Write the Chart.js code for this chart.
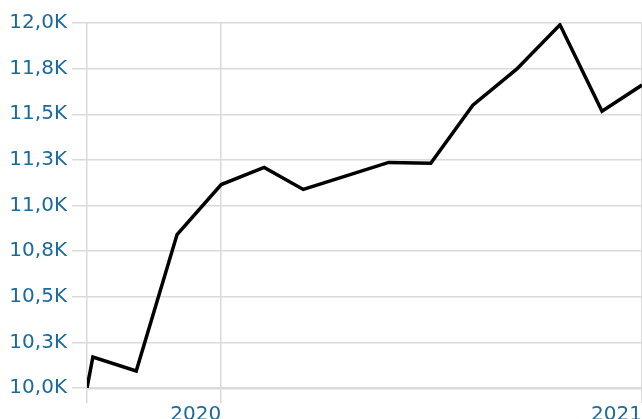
<!DOCTYPE html>
<html>
<head>
<meta charset="utf-8">
<script src="https://cdn.jsdelivr.net/npm/chart.js@4/dist/chart.umd.min.js"></script>
<style>
  html, body { margin: 0; padding: 0; background: #fff; }
  #wrap { width: 642px; height: 419px; }
</style>
</head>
<body>
<div id="wrap"><canvas id="chart"></canvas></div>
<script>
// x positions as decimal years
const years = [2019.681, 2019.695, 2019.798, 2019.895, 2020.0, 2020.102, 2020.195,
               2020.295, 2020.398, 2020.498, 2020.598, 2020.702, 2020.805, 2020.905, 2021.0];
const values = [10000, 10170, 10093, 10841, 11115, 11209, 11088,
                11161, 11236, 11231, 11550, 11747, 11990, 11517, 11660];
const xTicks = [2019.681, 2020, 2021];
const xTickLabels = ["", "2020", "2021"];

const blue = "#1a6a9c";
const grid = "#dadada";

const ctx = document.getElementById("chart").getContext("2d");
new Chart(ctx, {
  type: "line",
  data: {
    datasets: [{
      data: years.map((x, i) => ({ x: x, y: values[i] })),
      borderColor: "#000",
      borderWidth: 3.5,
      borderJoinStyle: "miter",
      pointRadius: 0,
      tension: 0,
      fill: false
    }]
  },
  options: {
    responsive: true,
    maintainAspectRatio: false,
    animation: false,
    layout: { padding: { top: 23, right: 0, left: 0, bottom: 0 } },
    plugins: { legend: { display: false }, tooltip: { enabled: false } },
    scales: {
      x: {
        type: "linear",
        min: xTicks[0],
        max: 2021,
        afterBuildTicks: axis => { axis.ticks = xTicks.map(v => ({ value: v })); },
        afterFit: axis => { axis.height = 31; },
        grid: { color: grid, lineWidth: 1.5, tickLength: 15 },
        border: { color: grid, width: 2.5 },
        ticks: {
          align: "end",
          padding: 0,
          maxRotation: 0,
          autoSkip: false,
          color: blue,
          font: { family: "DejaVu Sans", size: 20 },
          callback: (v, i) => xTickLabels[i]
        }
      },
      y: {
        min: 10000,
        max: 12000,
        afterFit: axis => { axis.width = 87; },
        grid: { color: grid, lineWidth: 1.5, tickLength: 15 },
        border: { display: false },
        ticks: {
          stepSize: 250,
          padding: 5,
          color: blue,
          font: { family: "DejaVu Sans", size: 20 },
          callback: v => (v / 1000).toFixed(1).replace(".", ",") + "K"
        }
      }
    }
  }
});
</script>
</body>
</html>
